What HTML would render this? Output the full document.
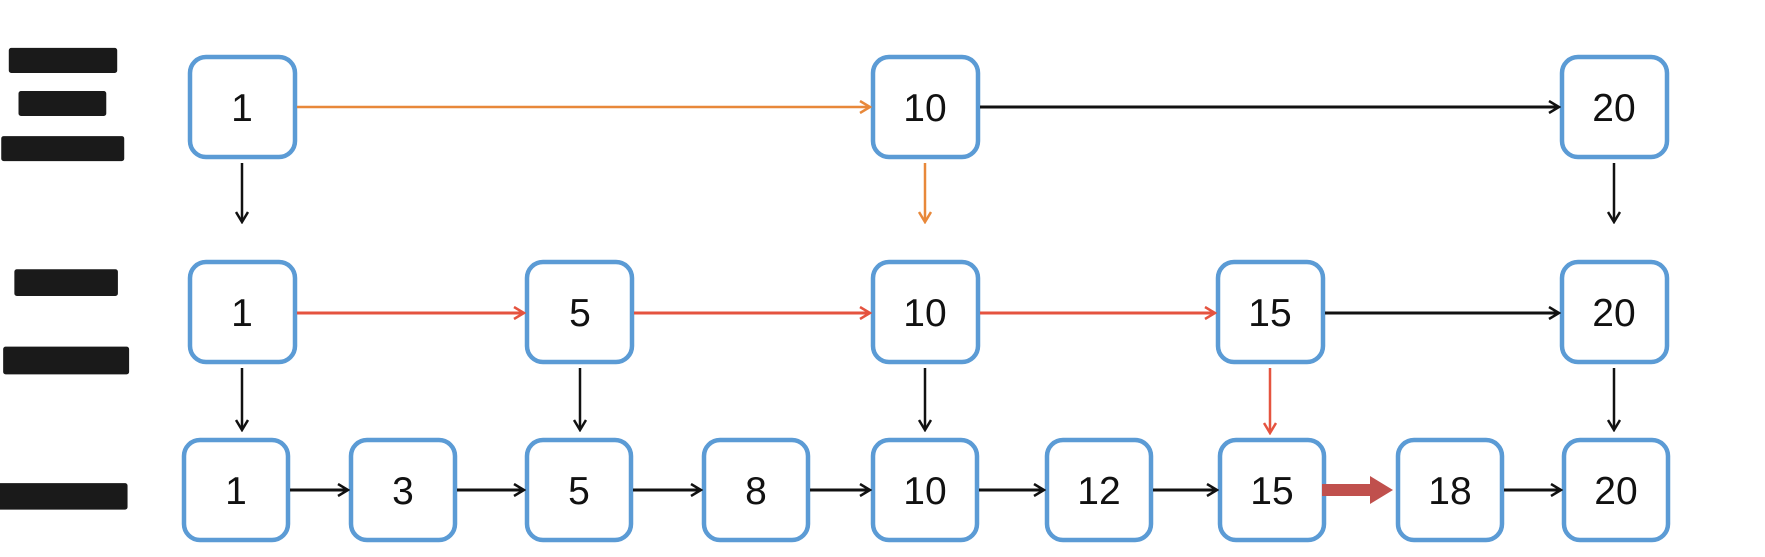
<!DOCTYPE html>
<html><head><meta charset="utf-8"><style>
html,body{margin:0;padding:0;background:#fff;width:1765px;height:557px;overflow:hidden;}
svg{display:block;}
</style></head><body>
<svg width="1765" height="557" viewBox="0 0 1765 557" xmlns="http://www.w3.org/2000/svg">
<defs>
<marker id="ab" markerWidth="14" markerHeight="14" refX="12" refY="7" orient="auto" markerUnits="userSpaceOnUse"><path d="M2,1 L12,7 L2,13" fill="none" stroke="#111" stroke-width="2.5"/></marker>
<marker id="ao" markerWidth="14" markerHeight="14" refX="12" refY="7" orient="auto" markerUnits="userSpaceOnUse"><path d="M2,1 L12,7 L2,13" fill="none" stroke="#e8883a" stroke-width="2.5"/></marker>
<marker id="ar" markerWidth="14" markerHeight="14" refX="12" refY="7" orient="auto" markerUnits="userSpaceOnUse"><path d="M2,1 L12,7 L2,13" fill="none" stroke="#e5533f" stroke-width="2.5"/></marker>
</defs>
<rect width="1765" height="557" fill="#fff"/>
<g font-family="'Noto Sans CJK SC', sans-serif" font-weight="900" fill="#1a1a1a" stroke="#1a1a1a" stroke-width="5" stroke-linejoin="round" text-anchor="middle" font-size="135">
<text x="63" y="153">三</text>
<text x="66" y="369">二</text>
<text x="62" y="549">一</text>
</g>
<g fill="#fff" stroke="#5b9bd5" stroke-width="4.5">
<rect x="190" y="57" width="105" height="100" rx="16"/>
<rect x="873" y="57" width="105" height="100" rx="16"/>
<rect x="1562" y="57" width="105" height="100" rx="16"/>
<rect x="190" y="262" width="105" height="100" rx="16"/>
<rect x="527" y="262" width="105" height="100" rx="16"/>
<rect x="873" y="262" width="105" height="100" rx="16"/>
<rect x="1218" y="262" width="105" height="100" rx="16"/>
<rect x="1562" y="262" width="105" height="100" rx="16"/>
<rect x="184" y="440" width="104" height="100" rx="16"/>
<rect x="351" y="440" width="104" height="100" rx="16"/>
<rect x="527" y="440" width="104" height="100" rx="16"/>
<rect x="704" y="440" width="104" height="100" rx="16"/>
<rect x="873" y="440" width="104" height="100" rx="16"/>
<rect x="1047" y="440" width="104" height="100" rx="16"/>
<rect x="1220" y="440" width="104" height="100" rx="16"/>
<rect x="1398" y="440" width="104" height="100" rx="16"/>
<rect x="1564" y="440" width="104" height="100" rx="16"/>
</g>
<g font-family="'Liberation Sans', sans-serif" font-size="39" fill="#111" text-anchor="middle">
<text x="242" y="121">1</text><text x="925" y="121">10</text><text x="1614" y="121">20</text>
<text x="242" y="326">1</text><text x="580" y="326">5</text><text x="925" y="326">10</text><text x="1270" y="326">15</text><text x="1614" y="326">20</text>
<text x="236" y="504">1</text><text x="403" y="504">3</text><text x="579" y="504">5</text><text x="756" y="504">8</text><text x="925" y="504">10</text><text x="1099" y="504">12</text><text x="1272" y="504">15</text><text x="1450" y="504">18</text><text x="1616" y="504">20</text>
</g>
<g stroke-width="2.5" fill="none">
<line x1="297" y1="107" x2="870" y2="107" stroke="#e8883a" marker-end="url(#ao)"/>
<line x1="980" y1="107" x2="1559" y2="107" stroke="#111" stroke-width="3" marker-end="url(#ab)"/>
<line x1="242" y1="163" x2="242" y2="222" stroke="#111" marker-end="url(#ab)"/>
<line x1="925" y1="163" x2="925" y2="222" stroke="#e8883a" marker-end="url(#ao)"/>
<line x1="1614" y1="163" x2="1614" y2="222" stroke="#111" marker-end="url(#ab)"/>
<line x1="297" y1="313" x2="524" y2="313" stroke="#e5533f" stroke-width="3" marker-end="url(#ar)"/>
<line x1="634" y1="313" x2="870" y2="313" stroke="#e5533f" stroke-width="3" marker-end="url(#ar)"/>
<line x1="980" y1="313" x2="1215" y2="313" stroke="#e5533f" stroke-width="3" marker-end="url(#ar)"/>
<line x1="1325" y1="313" x2="1559" y2="313" stroke="#111" stroke-width="3" marker-end="url(#ab)"/>
<line x1="242" y1="368" x2="242" y2="430" stroke="#111" marker-end="url(#ab)"/>
<line x1="580" y1="368" x2="580" y2="430" stroke="#111" marker-end="url(#ab)"/>
<line x1="925" y1="368" x2="925" y2="430" stroke="#111" marker-end="url(#ab)"/>
<line x1="1270" y1="368" x2="1270" y2="433" stroke="#e5533f" marker-end="url(#ar)"/>
<line x1="1614" y1="368" x2="1614" y2="430" stroke="#111" marker-end="url(#ab)"/>
<g stroke="#111" stroke-width="3">
<line x1="290" y1="490" x2="348" y2="490" marker-end="url(#ab)"/>
<line x1="457" y1="490" x2="524" y2="490" marker-end="url(#ab)"/>
<line x1="633" y1="490" x2="701" y2="490" marker-end="url(#ab)"/>
<line x1="810" y1="490" x2="870" y2="490" marker-end="url(#ab)"/>
<line x1="979" y1="490" x2="1044" y2="490" marker-end="url(#ab)"/>
<line x1="1153" y1="490" x2="1217" y2="490" marker-end="url(#ab)"/>
<line x1="1504" y1="490" x2="1561" y2="490" marker-end="url(#ab)"/>
</g>
</g>
<path d="M1322,484 L1370,484 L1370,476 L1393,490 L1370,504 L1370,496 L1322,496 Z" fill="#c0504d"/>
</svg>
</body></html>
